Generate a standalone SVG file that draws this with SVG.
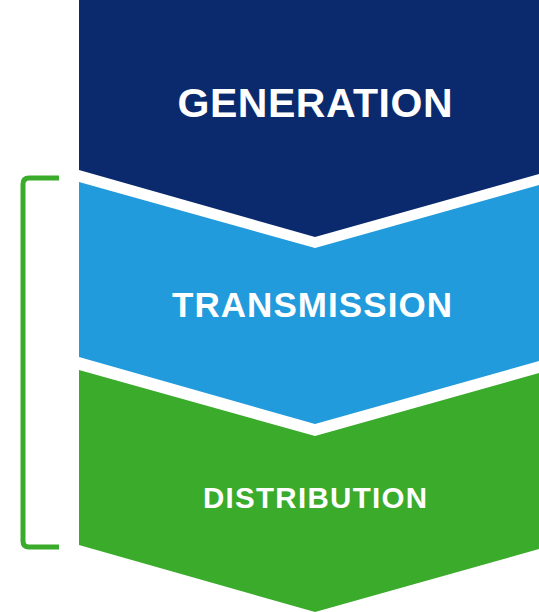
<svg xmlns="http://www.w3.org/2000/svg" width="539" height="612" viewBox="0 0 539 612">
  <style>
    .label { font-family: "Liberation Sans", Arial, sans-serif; font-weight: bold; fill: #ffffff; text-anchor: middle; }
    .bracket { fill: none; stroke: #3aab2b; stroke-width: 5; stroke-linejoin: round; }
  </style>
  <rect width="539" height="612" fill="#ffffff"/>
  <g id="generation">
    <polygon points="79,0 539,0 539,174 315,237 79,170" fill="#0b2a6e"/>
    <text class="label" x="315" y="117" font-size="41" textLength="275" lengthAdjust="spacing">GENERATION</text>
  </g>
  <g id="transmission">
    <polygon points="79,182 315,248 539,185 539,361 315,424 79,357" fill="#229bdd"/>
    <text class="label" x="312" y="317" font-size="35" textLength="280" lengthAdjust="spacing">TRANSMISSION</text>
  </g>
  <g id="distribution">
    <polygon points="79,370 315,436 539,373 539,549 315,612 79,545" fill="#3aab2b"/>
    <text class="label" x="315" y="508" font-size="29.5" textLength="224" lengthAdjust="spacing">DISTRIBUTION</text>
  </g>
  <g id="connectors">
    <path class="bracket" d="M59,178 L29,178 Q23,178 23,184 L23,541 Q23,547 29,547 L59,547"/>
  </g>
</svg>
